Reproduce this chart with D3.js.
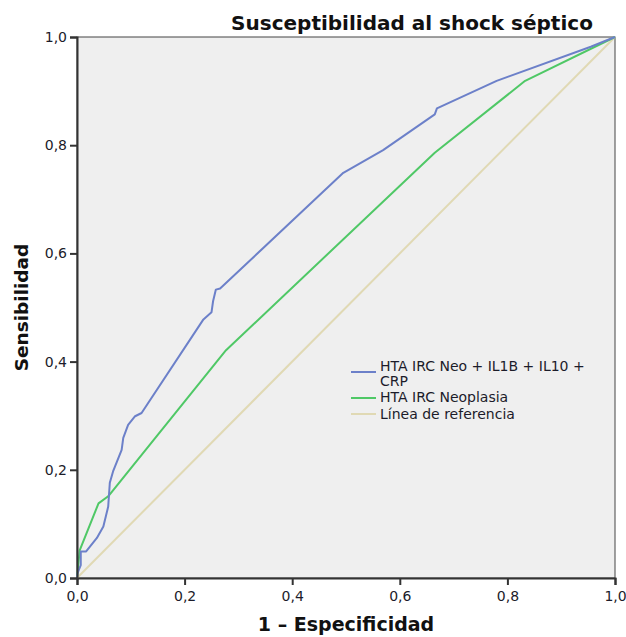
<!DOCTYPE html>
<html>
<head>
<meta charset="utf-8">
<script src="https://cdn.jsdelivr.net/npm/d3@7"></script>
<style>
  body { margin: 0; background: #fff; }
  svg { display: block; font-family: "DejaVu Sans", Verdana, sans-serif; }
</style>
</head>
<body>
<div id="chart"></div>
<script>
// ROC curves
const neoIlX = [0, 0.001, 0.007, 0.007, 0.017, 0.037, 0.049, 0.058, 0.061, 0.067, 0.083, 0.086, 0.095, 0.108, 0.120, 0.235, 0.250, 0.253, 0.258, 0.266, 0.495, 0.569, 0.665, 0.669, 0.780, 0.955, 1];
const neoIlY = [0, 0.009, 0.024, 0.049, 0.049, 0.074, 0.095, 0.132, 0.176, 0.197, 0.237, 0.259, 0.283, 0.299, 0.305, 0.478, 0.491, 0.512, 0.533, 0.535, 0.749, 0.791, 0.857, 0.868, 0.919, 0.982, 1];
const neoX = [0, 0.005, 0.040, 0.058, 0.277, 0.665, 0.833, 1];
const neoY = [0, 0.051, 0.138, 0.151, 0.421, 0.786, 0.919, 1];
const refX = [0, 1];
const refY = [0, 1];

const seriesNames = ["HTA IRC Neo + IL1B + IL10 + CRP", "HTA IRC Neoplasia", "Línea de referencia"];
const seriesColors = ["#6c80c9", "#4fc866", "#e0d9b4"];
const ticks = [0, 0.2, 0.4, 0.6, 0.8, 1.0];

const width = 626, height = 637;
const margin = { top: 37, right: 11, bottom: 59, left: 77 };
const w = width - margin.left - margin.right;
const h = height - margin.top - margin.bottom;

const x = d3.scaleLinear().domain([0, 1]).range([0, w]);
const y = d3.scaleLinear().domain([0, 1]).range([h, 0]);
const fmt = (d) => d3.format(".1f")(d).replace(".", ",");

const svg = d3.select("#chart").append("svg")
  .attr("width", width)
  .attr("height", height);

const g = svg.append("g").attr("transform", `translate(${margin.left},${margin.top})`);

// plot background + frame
g.append("rect")
  .attr("width", w)
  .attr("height", h)
  .attr("fill", "#efefef")
  .attr("stroke", "#444")
  .attr("stroke-width", 1);

// curves
const line = d3.line().x((d) => x(d[0])).y((d) => y(d[1]));
const series = [
  { xs: refX, ys: refY, color: seriesColors[2] },
  { xs: neoX, ys: neoY, color: seriesColors[1] },
  { xs: neoIlX, ys: neoIlY, color: seriesColors[0] }
];
series.forEach((s) => {
  g.append("path")
    .datum(s.xs.map((v, i) => [v, s.ys[i]]))
    .attr("fill", "none")
    .attr("stroke", s.color)
    .attr("stroke-width", 2)
    .attr("stroke-linejoin", "round")
    .attr("d", line);
});

// axes
const xAxis = g.append("g")
  .attr("transform", `translate(0,${h})`)
  .call(d3.axisBottom(x).tickValues(ticks).tickFormat(fmt).tickSize(7).tickPadding(6));
const yAxis = g.append("g")
  .call(d3.axisLeft(y).tickValues(ticks).tickFormat(fmt).tickSize(7).tickPadding(3));

[xAxis, yAxis].forEach((a) => {
  a.select(".domain").attr("stroke", "#333").attr("stroke-width", 2);
  a.selectAll(".tick line").attr("stroke", "#333").attr("stroke-width", 2);
  a.selectAll(".tick text")
    .attr("fill", "#1c1c2a")
    .style("font-size", "14px")
    .style("font-family", "DejaVu Sans, sans-serif");
});

// title
svg.append("text")
  .attr("x", 412)
  .attr("y", 30)
  .attr("text-anchor", "middle")
  .style("font-size", "20px")
  .style("font-weight", "bold")
  .attr("fill", "#111")
  .text("Susceptibilidad al shock séptico");

// axis titles
svg.append("text")
  .attr("x", margin.left + w / 2)
  .attr("y", 631)
  .attr("text-anchor", "middle")
  .style("font-size", "19px")
  .style("font-weight", "bold")
  .attr("fill", "#111")
  .text("1 – Especificidad");

svg.append("text")
  .attr("transform", `translate(28,${margin.top + h / 2}) rotate(-90)`)
  .attr("text-anchor", "middle")
  .style("font-size", "18.5px")
  .style("font-weight", "bold")
  .attr("fill", "#111")
  .text("Sensibilidad");

// legend
const legend = svg.append("g").attr("transform", "translate(351,0)");
const legendRows = [
  { lines: ["HTA IRC Neo + IL1B + IL10 +", "CRP"], y: 366, lineY: 372 },
  { lines: [seriesNames[1]], y: 397, lineY: 398 },
  { lines: [seriesNames[2]], y: 414, lineY: 414 }
];
legendRows.forEach((r, i) => {
  legend.append("line")
    .attr("x1", 0).attr("x2", 25)
    .attr("y1", r.lineY).attr("y2", r.lineY)
    .attr("stroke", seriesColors[i])
    .attr("stroke-width", 2);
  r.lines.forEach((t, j) => {
    legend.append("text")
      .attr("x", 29)
      .attr("y", r.y + j * 15)
      .attr("dy", "0.35em")
      .style("font-size", "14px")
      .attr("fill", "#1c1c2a")
      .text(t);
  });
});
</script>
</body>
</html>
